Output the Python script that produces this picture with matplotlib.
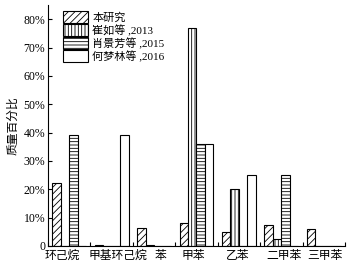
import matplotlib
matplotlib.use("Agg")
import matplotlib.pyplot as plt
import numpy as np

categories = ["环己烷", "甲基环己烷", "苯", "甲苯", "乙苯", "二甲苯", "三甲苯"]
series_names = ["本研究", "崔如等 ,2013", "肖景芳等 ,2015", "何梦林等 ,2016"]
ben_yanjiu = [22.3, 0.3, 6.5, 8.0, 5.0, 7.5, 6.0]
cui_ru = [0.0, 0.0, 0.5, 77.0, 20.0, 2.3, 0.0]
xiao_jingfang = [39.2, 0.0, 0.0, 36.0, 0.0, 25.0, 0.0]
he_menglin = [0.0, 39.2, 0.0, 36.0, 25.0, 0.0, 0.0]
yticks = [0, 10, 20, 30, 40, 50, 60, 70, 80]
ytick_labels = ["0", "10%", "20%", "30%", "40%", "50%", "60%", "70%", "80%"]

plt.rcParams['font.family'] = ['Liberation Serif', 'Noto Sans CJK SC']
plt.rcParams['hatch.linewidth'] = 0.6
plt.rcParams['hatch.color'] = '#555555'

fig = plt.figure(figsize=(3.51, 2.64), dpi=100)
ax = fig.add_axes([48/351, 1-246/264, 297/351, 241/264])

series = [ben_yanjiu, cui_ru, xiao_jingfang, he_menglin]
hatches = ['/////', '|||||', '-----', '']
x = np.arange(len(categories))
w = 0.2
for i, (vals, name, h) in enumerate(zip(series, series_names, hatches)):
    ax.bar(x + 0.1 + i * w, vals, width=w, align='edge', facecolor='white',
           edgecolor='black', linewidth=0.8, hatch=h, label=name)

# label placement offsets within each group (layout only)
label_offsets = np.array([0.34, 0.64, 0.64, 0.42, 0.48, 0.56, 0.53])

ax.set_xlim(0, 7)
ax.set_ylim(0, 85)
ax.set_xticks(np.arange(0, 8))
ax.set_xticklabels([])
ax.set_xticks(x + label_offsets, minor=True)
ax.set_xticklabels(categories, minor=True, fontsize=8.5)
ax.tick_params(axis='x', which='minor', length=0, pad=3)
ax.tick_params(axis='x', which='major', direction='in', length=3, width=0.8)
ax.set_yticks(yticks)
ax.set_yticklabels(ytick_labels, fontsize=8.5)
ax.tick_params(axis='y', direction='in', length=3, width=0.8, pad=2)
ax.spines['top'].set_visible(False)
ax.spines['right'].set_visible(False)
for s in ['left', 'bottom']:
    ax.spines[s].set_linewidth(0.8)
ax.set_ylabel("质量百分比", fontsize=8.5, labelpad=3)

leg = ax.legend(loc='upper left', bbox_to_anchor=(0.05, 0.975), frameon=False,
                fontsize=8, handlelength=2.25, handleheight=1.3,
                labelspacing=0.08, borderpad=0, borderaxespad=0, handletextpad=0.4)

fig.savefig("out.png", dpi=100)
